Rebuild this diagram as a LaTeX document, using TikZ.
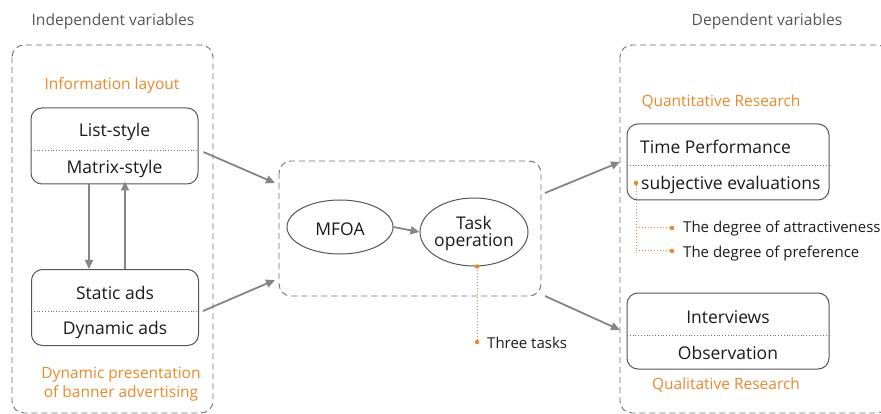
\documentclass[tikz,border=0pt]{standalone}
\usepackage{fontspec}
\setmainfont{Open Sans}
\usetikzlibrary{arrows.meta,shapes.geometric,calc}
\definecolor{accent}{HTML}{E8892B}
\definecolor{ink}{HTML}{1A1A1A}
\definecolor{frame}{HTML}{6E6E6E}
\definecolor{arrowgray}{HTML}{858585}
\definecolor{headgray}{HTML}{555555}
\tikzset{
  group/.style={draw=frame, dashed, dash pattern=on 6pt off 4pt, line width=0.9pt, rounded corners=12pt},
  pairbox/.style={draw=headgray, line width=1pt, rounded corners=11pt, minimum width=167pt, minimum height=76pt},
  oval/.style={draw=headgray, line width=1pt, ellipse, inner sep=0pt},
  head/.style={text=headgray, font=\fontsize{15.6}{18}\selectfont, yshift=-2pt},
  tag/.style={text=accent, font=\fontsize{15.5}{19}\selectfont, align=center, yshift=-2pt},
  item/.style={text=ink, font=\fontsize{17.5}{20}\selectfont, inner sep=0pt, yshift=-2pt},
  note/.style={text=ink, font=\fontsize{15}{17}\selectfont, anchor=west, inner sep=0pt, yshift=-1pt},
  flow/.style={draw=arrowgray, line width=1.8pt, -{Triangle[length=9pt,width=8pt]}},
  split/.style={draw=frame, dotted, line width=0.8pt},
  lead/.style={draw=accent, dotted, line width=1pt},
  pin/.style={fill=accent, circle, inner sep=0pt, minimum size=4.5pt}
}
\begin{document}
\begin{tikzpicture}[x=1pt,y=-1pt]
\useasboundingbox (0,0) rectangle (881,414);

% headings
\node[head] (hin) at (113,19) {Independent variables};
\node[head] (hdep) at (767,19) {Dependent variables};

% dashed groups
\draw[group] (12,45) rectangle (213,413);
\draw[group] (279,161) rectangle (541,296);
\draw[group] (620,45) rectangle (889,413);
\coordinate (midW) at (279,228);
\coordinate (midE) at (541,228);
\coordinate (rightW) at (620,228);

% left side
\node[tag] (tinfo) at (112,83) {Information layout};
\node[pairbox] (layout) at (114.5,146) {};
\draw[split] (31,150) -- (198,150);
\node[item] (list) at (114.5,130) {List-style};
\node[item] (matrix) at (114.5,167) {Matrix-style};

\node[pairbox] (ads) at (115,307.5) {};
\draw[split] (31,311) -- (199,311);
\node[item] (static) at (115,291) {Static ads};
\node[item] (dynamic) at (115,328) {Dynamic ads};
\node[tag] (tdyn) at (121,382) {Dynamic presentation\\of banner advertising};

\draw[flow] ([xshift=-25.5pt]layout.south) -- ([xshift=-26pt]ads.north);
\draw[flow] ([xshift=10pt]ads.north) -- ([xshift=10.5pt,yshift=3pt]layout.south);

\draw[flow] ($(layout.east)+(5,6)$) -- ($(midW)+(-4,-45)$);
\draw[flow] ($(ads.east)+(4,3.5)$) -- ($(midW)+(-4,52)$);

% middle
\node[oval, minimum width=106pt, minimum height=54pt] (mfoa) at (340,227) {};
\node[item] at (mfoa) {MFOA};
\node[oval, minimum width=108pt, minimum height=68pt] (task) at (474,232) {};
\node[align=center, text=ink, inner sep=0pt, yshift=-1pt,
      font=\fontsize{17.5}{19}\selectfont] at (task) {Task\\[-2pt]operation};
\draw[flow] (mfoa.east) -- (task.west);

\coordinate (tdot) at (477,342);
\draw[lead] ([xshift=3pt]task.south) -- (tdot);
\node[pin] at ([xshift=3pt]task.south) {};
\node[pin] at (tdot) {};
\node[note] (three) at (487,342) {Three tasks};

\draw[flow] ($(midE)+(4,-35)$) -- ($(rightW)+(0,-66)$);
\draw[flow] ($(midE)+(4,68)$) -- ($(rightW)+(0,102)$);

% right side
\node[tag] (tquant) at (721,100) {Quantitative Research};
\node[pairbox, minimum width=202pt] (measure) at (728,162) {};
\draw[split] (627,165) -- (829,165);
\node[item, anchor=west] (time) at (640,145) {Time Performance};
\node[item, anchor=west] (subj) at (641,183) {subjective evaluations};
\node[pin] (sdot) at (636,183) {};
\coordinate (elbow1) at (636,228);
\coordinate (elbow2) at (636,251);
\draw[lead] (sdot) -- (elbow2) -- (672,251);
\draw[lead] (elbow1) -- (672,228);
\node[pin] (d1) at (672,228) {};
\node[pin] (d2) at (672,251) {};
\node[note] (attr) at (683,228) {The degree of attractiveness};
\node[note] (pref) at (683,253) {The degree of preference};

\node[pairbox, minimum width=202pt] (qual) at (728,331) {};
\draw[split] (627,335) -- (829,335);
\node[item] (interv) at (728,315) {Interviews};
\node[item] (obs) at (728,351) {Observation};
\node[tag] (tqual) at (726,383) {Qualitative Research};
\end{tikzpicture}
\end{document}
